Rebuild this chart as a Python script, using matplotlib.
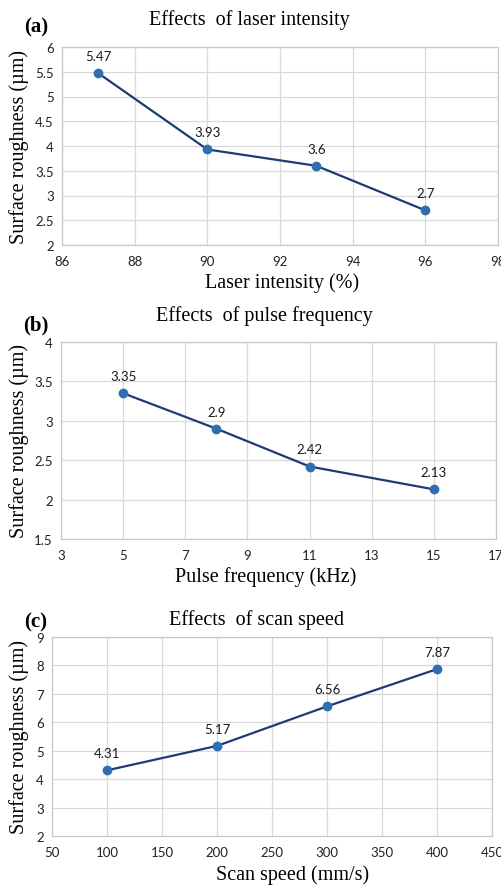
import matplotlib
matplotlib.use("Agg")
import matplotlib.pyplot as plt

# data
laser_intensity = [87, 90, 93, 96]
roughness_laser = [5.47, 3.93, 3.6, 2.7]

pulse_freq = [5, 8, 11, 15]
roughness_pulse = [3.35, 2.9, 2.42, 2.13]

scan_speed = [100, 200, 300, 400]
roughness_scan = [4.31, 5.17, 6.56, 7.87]

W, H = 502, 887
fig = plt.figure(figsize=(W / 100, H / 100), dpi=100)

SERIF = "Liberation Serif"
SANS = "Lato"
LINE = "#1F3B73"
MARK = "#2E6FB0"
GRID = "#D9D9D9"


def px_axes(left, top, right, bottom):
    return fig.add_axes([left / W, 1 - bottom / H, (right - left) / W, (bottom - top) / H])


def px_text(x, y, s, **kw):
    fig.text(x / W, 1 - y / H, s, **kw)


def draw_panel(box, xs, ys, xlim, xticks, ylim, yticks, title, xlabel, tag,
               title_xy, xlab_xy, tag_y):
    ax = px_axes(*box)
    ax.plot(xs, ys, color=LINE, lw=1.6, marker="o", ms=6,
            markerfacecolor=MARK, markeredgecolor=MARK, zorder=3)
    for x, y in zip(xs, ys):
        ax.annotate(f"{y:g}", (x, y), xytext=(0, 8), textcoords="offset points",
                    ha="center", va="bottom", fontsize=9.5, family=SANS, color="#1a1a1a")
    ax.set_xlim(*xlim)
    ax.set_ylim(*ylim)
    ax.set_xticks(xticks)
    ax.set_yticks(yticks)
    ax.set_xticklabels([f"{t:g}" for t in xticks], family=SANS, fontsize=9.5, color="#222222")
    ax.set_yticklabels([f"{t:g}" for t in yticks], family=SANS, fontsize=9.5, color="#222222")
    ax.tick_params(axis="y", length=0, pad=6)
    ax.tick_params(axis="x", length=0, pad=7)
    ax.grid(True, color=GRID, lw=0.9)
    ax.set_axisbelow(True)
    for s in ax.spines.values():
        s.set_color("#C8C8C8")
        s.set_linewidth(0.9)
    px_text(title_xy[0], title_xy[1], title, ha="center", va="center", family=SERIF, fontsize=14.5)
    px_text(xlab_xy[0], xlab_xy[1], xlabel, ha="center", va="center", family=SERIF, fontsize=14.5)
    px_text(19, (box[1] + box[3]) / 2, "Surface roughness (µm)", ha="center", va="center",
            rotation=90, family=SERIF, fontsize=14.5)
    px_text(36, tag_y, tag, ha="center", va="center", family=SERIF, fontsize=15, fontweight="bold")
    return ax


draw_panel((62, 48, 498, 246), laser_intensity, roughness_laser, (86, 98), list(range(86, 99, 2)),
           (2, 6), [2, 2.5, 3, 3.5, 4, 4.5, 5, 5.5, 6],
           "Effects  of laser intensity", "Laser intensity (%)", "(a)", (249, 20), (282, 283), 27)

draw_panel((61, 343, 496, 540), pulse_freq, roughness_pulse, (3, 17), list(range(3, 18, 2)),
           (1.5, 4), [1.5, 2, 2.5, 3, 3.5, 4],
           "Effects  of pulse frequency", "Pulse frequency (kHz)", "(b)", (264, 316), (266, 577), 325)

draw_panel((52, 638, 492, 837), scan_speed, roughness_scan, (50, 450), list(range(50, 451, 50)),
           (2, 9), list(range(2, 10)),
           "Effects  of scan speed", "Scan speed (mm/s)", "(c)", (257, 620), (293, 875), 622)

fig.savefig("out.png", dpi=100)
